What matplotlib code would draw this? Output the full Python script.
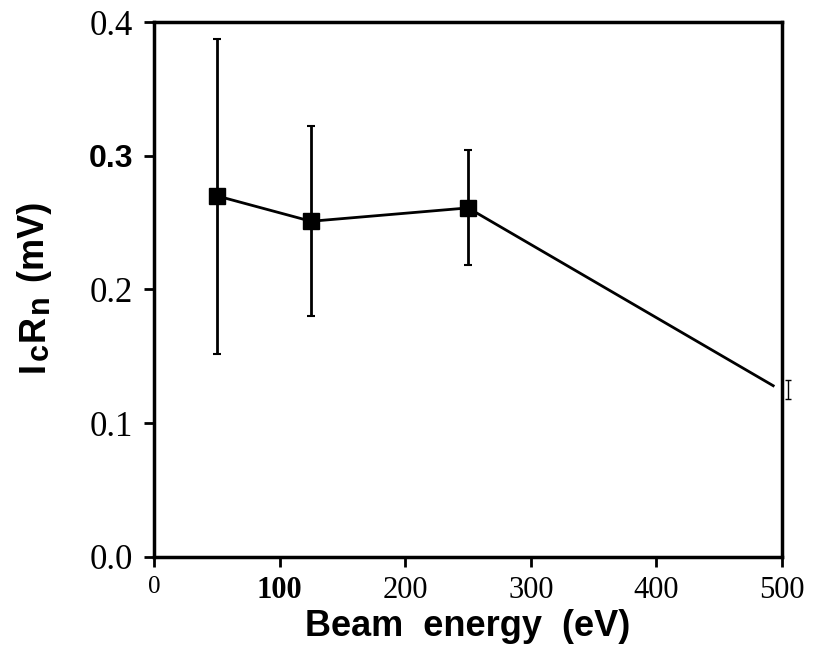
import matplotlib
matplotlib.use("Agg")
import matplotlib.pyplot as plt

# beam energy (eV) and IcRn (mV)
energy = [50, 125, 250, 493]
icrn = [0.270, 0.251, 0.261, 0.128]
err_lo = [0.118, 0.071, 0.043, 0.0]
err_hi = [0.117, 0.071, 0.043, 0.0]

# the lone small bar at the far right, just past the axis
last_x = [505]
last_y = [0.125]
last_err = [0.007]

xticks = [0, 100, 200, 300, 400, 500]
yticks = [0.0, 0.1, 0.2, 0.3, 0.4]

fig = plt.figure(figsize=(8.15, 6.49), dpi=100)
ax = fig.add_axes([0.189, 0.142, 0.7705, 0.824])

ax.errorbar(energy[:3], icrn[:3], yerr=[err_lo[:3], err_hi[:3]], fmt='none',
            ecolor='black', elinewidth=2, capsize=3, capthick=1.5)
ax.plot(energy, icrn, color='black', lw=2)
ax.plot(energy[:3], icrn[:3], 's', color='black', ms=11)
ax.errorbar(last_x, last_y, yerr=last_err, fmt='none', ecolor='black',
            elinewidth=1, capsize=2, clip_on=False)

ax.set_xlim(0, 500)
ax.set_ylim(0, 0.4)
ax.set_xticks(xticks)
ax.set_yticks(yticks)
ax.set_xticklabels([str(t) for t in xticks], family='Liberation Serif', fontsize=22)
ax.set_yticklabels(['%.1f' % t for t in yticks], family='Liberation Serif', fontsize=25)
ax.tick_params(direction='out', length=7, width=2)
ax.tick_params(axis='x', pad=7)
ax.tick_params(axis='y', pad=8)
for s in ax.spines.values():
    s.set_linewidth(2.5)

# scan quirks: a few labels are set in bold
lab = ax.get_yticklabels()[3]
lab.set_fontfamily(['Liberation Sans'])
lab.set_fontweight('bold')
lab.set_fontsize(23)
ax.get_xticklabels()[1].set_fontweight('bold')
ax.get_xticklabels()[0].set_fontsize(18)

ax.set_xlabel('Beam  energy  (eV)', family='Liberation Sans', weight='bold',
              fontsize=26, labelpad=3)

# y label built piece by piece so the subscripts stay large
fig.canvas.draw()
r = fig.canvas.get_renderer()
pieces = [('I', 26, 0), ('c', 22, 4), ('R', 26, 0), ('n', 22, 4), (' (mV)', 26, 0)]
y = 277
for txt, size, shift in pieces:
    t = fig.text((44 + shift) / 815, y / 649, txt, rotation=90, rotation_mode='anchor',
                 ha='left', va='baseline', fontsize=size, family='Liberation Sans',
                 weight='bold')
    y += t.get_window_extent(r).height + 2

fig.savefig('out.png', dpi=100)
